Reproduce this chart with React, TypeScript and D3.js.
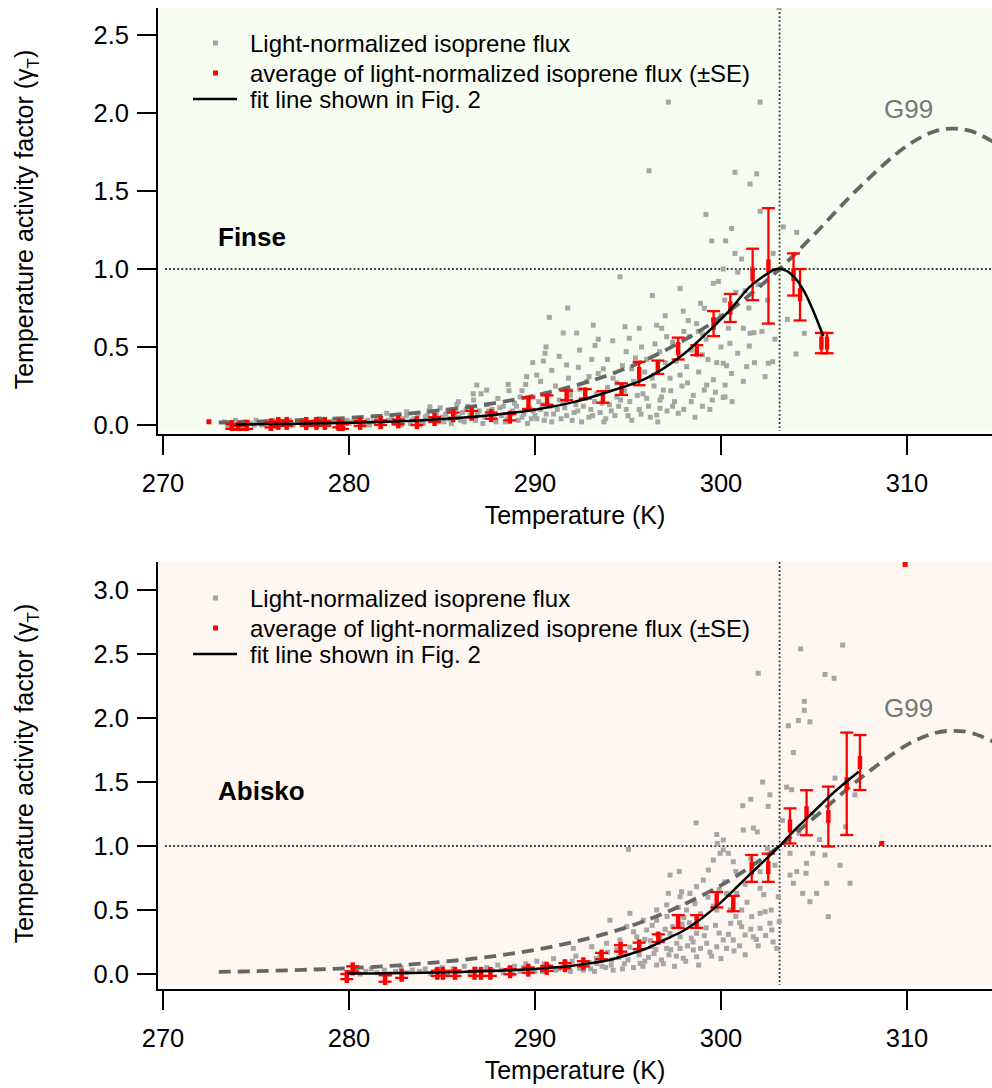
import React from "react";
import * as d3 from "d3";

// ---------- DATA ----------
const xTicks = [270, 280, 290, 300, 310];
const finseYTicks = [0.0, 0.5, 1.0, 1.5, 2.0, 2.5];
const abiskoYTicks = [0.0, 0.5, 1.0, 1.5, 2.0, 2.5, 3.0];
const refTemperature = 303.15;
const refGamma = 1.0;

// Light-normalized isoprene flux (scatter) [T (K), gamma]
const finseScatter: [number, number][] = [
  [273.3,0.02],[273.6,0.01],[273.9,0.03],[274.2,0.0],[274.4,0.02],[274.7,0.01],[275.0,0.03],[275.3,0.0],[275.6,0.02],[275.9,0.03],
  [276.1,0.01],[276.4,0.02],[276.8,0.03],[277.0,0.0],[277.3,0.02],[277.5,0.03],[277.9,0.01],[278.1,0.02],[278.4,0.04],[278.7,0.0],
  [279.0,0.02],[279.2,0.03],[279.6,0.01],[279.9,0.03],[280.2,0.02],[280.4,0.04],[280.8,0.0],[281.0,0.03],[281.3,0.02],[281.5,0.05],
  [281.8,0.01],[282.1,0.03],[282.3,0.05],[282.6,0.02],[282.9,0.04],[283.1,0.06],[283.3,0.01],
  [273.5,-0.01],[274.0,0.01],[274.9,0.0],[275.4,0.01],[276.6,0.0],[277.7,0.01],[278.9,0.01],[279.4,0.0],[280.0,0.01],[280.6,0.02],
  [281.1,0.0],[281.7,0.02],[282.4,0.01],[282.8,0.0],[283.4,0.03],[283.8,0.0],
  [283.5,0.04],[283.7,0.07],[283.9,0.02],[284.1,0.05],[284.3,0.09],[284.5,0.03],[284.7,0.06],[284.9,0.11],[285.1,0.02],[285.2,0.07],
  [285.4,0.04],[285.6,0.1],[285.8,0.13],[285.9,0.05],[286.1,0.08],[286.2,0.02],[286.4,0.12],[286.5,0.06],[286.7,0.16],[286.8,0.03],
  [287.0,0.09],[287.1,0.2],[287.3,0.05],[287.4,0.13],[287.6,0.07],[287.7,0.1],[287.9,0.02],[288.0,0.17],[288.2,0.06],[288.3,0.12],
  [288.5,0.04],[288.6,0.22],[288.8,0.09],[288.9,0.14],[289.1,0.03],[289.2,0.18],[289.4,0.07],[289.5,0.26],[289.7,0.11],[289.8,0.04],
  [284.0,0.01],[284.2,0.06],[284.6,0.08],[284.8,0.02],[285.0,0.05],[285.3,0.09],[285.5,0.01],[285.7,0.06],[286.0,0.03],[286.3,0.1],
  [286.6,0.04],[286.9,0.07],[287.2,0.01],[287.5,0.09],[287.8,0.05],[288.1,0.11],[288.4,0.02],[288.7,0.07],[289.0,0.12],[289.3,0.05],
  [289.6,0.01],[289.9,0.09],[290.1,0.04],[290.4,0.13],[290.6,0.07],[290.9,0.02],[291.2,0.1],[291.5,0.14],[291.7,0.06],[292.0,0.03],
  [292.3,0.09],[292.6,0.12],[292.9,0.05],[293.2,0.15],[293.5,0.08],[293.7,0.02],[294.0,0.13],[294.3,0.06],[294.6,0.16],[294.9,0.1],
  [295.2,0.03],[295.5,0.19],[295.7,0.07],[296.1,0.12],[296.4,0.25],[296.6,0.02],[296.8,0.18],[297.1,0.09],[297.3,0.22],[297.5,0.15],
  [297.8,0.32],[298.0,0.1],[298.2,0.27],[298.4,0.15],[298.8,0.34],[299.0,0.12],[299.3,0.42],[299.7,0.21],[300.0,0.5],[300.3,0.38],
  [300.6,0.15],[300.9,0.46],[301.2,0.28],[301.5,0.75],[301.8,0.4],[302.0,0.9],[302.2,0.6],[302.5,0.8],[302.8,1.1],[302.9,0.55],
  [289.3,0.22],[289.9,0.18],[290.3,0.28],[290.9,0.35],[291.3,0.44],[291.9,0.22],[292.4,0.48],[292.9,0.31],[293.4,0.55],[293.9,0.42],
  [294.4,0.27],[294.9,0.47],[295.2,0.36],[295.6,0.62],[296.0,0.42],[296.3,0.3],[296.7,0.47],[297.0,0.7],[297.4,0.53],[297.6,0.41],
  [298.0,0.6],[298.4,0.48],[298.9,0.78],[299.2,0.55],[299.6,0.67],[300.2,0.8],[300.4,0.62],[300.9,0.98],[301.3,0.86],[301.7,1.0],
  [282.03,0.075],[283.1,0.085],[284.35,0.117],[285.88,0.15],[286.68,0.2],[286.87,0.256],[287.4,0.224],[288.56,0.26],[289.55,0.31],
  [289.88,0.40],[290.09,0.32],[290.45,0.41],[290.54,0.46],[290.59,0.50],[290.77,0.69],[291.52,0.59],[291.7,0.385],[291.76,0.75],
  [292.24,0.59],[292.33,0.37],[293.05,0.42],[293.13,0.64],[293.23,0.51],[293.67,0.36],[294.18,0.54],[294.57,0.95],[294.84,0.63],
  [295.07,0.556],[295.73,0.50],[296.13,1.63],[296.31,0.83],[296.45,0.52],[296.54,0.64],[296.81,0.62],[297.08,0.566],[297.17,2.07],
  [297.8,0.876],[297.97,0.73],[298.24,0.67],[298.69,0.65],[298.78,0.60],[299.19,1.35],[299.5,1.18],[300.25,1.18],[300.57,1.26],
  [300.75,1.62],[300.75,1.10],
  [290.0,0.06],[290.2,0.15],[290.3,0.1],[290.5,0.03],[290.7,0.2],[290.8,0.12],[291.0,0.07],[291.1,0.25],[291.3,0.16],[291.4,0.04],
  [291.6,0.11],[291.8,0.3],[291.9,0.19],[292.1,0.08],[292.2,0.13],[292.4,0.23],[292.5,0.02],[292.7,0.17],[292.8,0.28],[293.0,0.1],
  [293.1,0.06],[293.3,0.2],[293.4,0.33],[293.6,0.14],[293.8,0.04],[293.9,0.24],[294.1,0.09],[294.2,0.3],[294.4,0.18],[294.5,0.12],
  [294.7,0.38],[294.8,0.22],[295.0,0.06],[295.1,0.15],[295.3,0.28],[295.4,0.43],[295.6,0.1],[295.8,0.2],[295.9,0.34],
  [296.0,0.171],[296.2,0.05],[296.54,0.064],[296.72,0.16],[296.72,0.107],[296.9,0.224],[297.0,0.4],[297.26,0.30],[297.4,0.12],
  [297.7,0.075],[297.9,0.25],[298.15,0.374],[298.3,0.566],[298.51,0.19],[298.6,0.05],[299.0,0.45],[299.01,0.583],[299.1,0.224],
  [299.1,0.748],[299.23,0.256],[299.4,0.1],[299.53,0.16],[299.59,0.29],[299.59,0.908],[299.77,0.40],[299.86,0.92],[300.0,0.7],
  [300.12,1.0],[300.12,0.396],[300.12,0.177],[300.22,0.256],[300.22,0.18],[300.48,0.524],[300.57,0.33],[300.8,0.85],[301.11,1.064],
  [301.2,0.62],[301.38,0.374],[301.52,0.506],[301.56,1.545],[301.56,0.588],[301.77,0.592],[301.92,1.61],[302.1,1.37],[302.1,2.07],
  [302.37,0.31],[302.54,0.396],[302.78,0.406],[303.12,2.675],[303.35,1.27],[303.57,0.677],[304.03,0.455],[304.07,1.235],[304.48,0.588],
];

const abiskoScatter: [number, number][] = [
  [280.3,0.03],[280.6,0.0],[280.9,0.02],[281.2,0.04],[281.5,0.01],[281.9,0.03],[282.2,0.0],[282.5,0.02],[282.8,0.05],[283.1,0.01],
  [283.4,0.03],[283.8,0.02],[284.1,0.04],[284.4,0.0],[284.7,0.03],[285.0,0.05],[285.3,0.01],[285.6,0.04],[285.9,0.02],[286.2,0.06],
  [286.5,0.01],[286.8,0.04],[287.1,0.02],[287.4,0.05],[287.7,0.03],[288.0,0.07],[288.3,0.01],[288.6,0.04],[288.9,0.06],[289.2,0.02],
  [289.5,0.08],[289.8,0.04],[290.1,0.1],[290.4,0.02],[290.7,0.06],[291.0,0.12],[291.3,0.04],[291.6,0.09],[291.9,0.02],[292.2,0.14],
  [292.4,0.05],
  [288.2,0.03],[288.8,0.0],[289.4,0.05],[290.0,0.02],[290.5,0.08],[291.1,0.03],[291.7,0.05],[292.0,0.1],[292.6,0.03],[292.9,0.09],
  [293.2,0.02],[293.5,0.15],[293.8,0.05],[294.1,0.07],[294.4,0.19],[294.7,0.04],[295.0,0.11],[295.4,0.18],[295.8,0.06],[296.1,0.13],
  [296.5,0.19],[296.9,0.08],[297.2,0.15],[297.5,0.06],[297.8,0.2],[298.1,0.1],[298.5,0.25],[298.8,0.07],[299.1,0.3],[299.4,0.17],
  [299.7,0.38],[300.0,0.12],[300.4,0.31],[300.7,0.18],[301.0,0.4],[301.3,0.15],[301.6,0.35],[302.0,0.22],[302.4,0.3],[302.7,0.5],
  [303.0,0.2],
  [295.3,0.33],[295.9,0.27],[296.3,0.38],[296.6,0.31],[297.1,0.45],[297.4,0.37],[297.7,0.52],[298.0,0.44],[298.3,0.4],[298.6,0.55],
  [298.9,0.47],[299.3,0.6],[299.6,0.53],[299.9,0.66],[300.2,0.72],[300.5,0.5],[300.8,0.8],[301.3,0.7],[301.6,0.9],[302.1,0.8],
  [302.5,0.98],[302.9,0.85],[303.3,1.2],[303.6,1.05],[304.2,1.1],[304.9,1.25],[305.3,1.05],[306.4,0.85],[307.2,1.4],[306.7,1.15],
  [293.0,0.04],[293.3,0.12],[293.6,0.06],[293.9,0.17],[294.2,0.03],[294.5,0.13],[294.8,0.08],[295.1,0.21],[295.3,0.05],[295.6,0.15],
  [295.9,0.1],[296.2,0.26],[296.4,0.16],[296.8,0.11],[297.0,0.35],[297.3,0.19],[297.6,0.14],[297.9,0.39],[298.2,0.22],[298.4,0.28],
  [298.9,0.2],[299.2,0.36],[299.5,0.14],[299.9,0.32],[300.3,0.2],[300.8,0.45],[301.0,0.22],[301.4,0.56],[301.9,0.27],[302.3,0.62],
  [302.8,0.25],
  [306.54,2.57],[304.28,2.54],[305.59,2.34],[306.08,2.31],[302.0,2.35],[304.48,2.13],[304.48,2.06],[304.16,1.98],[304.78,1.97],
  [303.62,1.94],[303.89,1.73],[302.24,1.50],[301.6,1.365],[301.17,1.315],[302.63,1.40],[302.54,1.31],[303.53,1.46],[303.8,1.44],
  [306.13,1.53],[298.66,1.18],[299.77,1.09],[301.2,1.125],[301.74,1.14],[301.95,1.11],[299.8,1.02],[300.12,0.97],[295.02,0.974],
  [300.66,0.877],[297.76,0.80],[297.26,0.773],[297.88,0.643],[297.17,0.63],[303.71,0.943],[304.07,0.80],[304.6,0.865],[304.93,0.943],
  [304.57,0.787],[303.89,0.709],[303.71,0.773],[305.59,0.93],[305.68,0.709],[306.94,0.709],[304.39,0.63],[305.14,0.63],[304.78,0.565],
  [305.77,0.448],[303.08,0.604],[303.13,0.41],[302.1,0.67],[302.37,0.487],[301.65,0.448],[301.11,0.37],[302.1,0.357],[302.73,0.344],
  [300.52,0.396],[300.12,0.266],[299.77,0.213],[301.29,0.305],[301.74,0.29],[300.66,0.266],[298.69,0.318],[299.23,0.24],[298.51,0.1875],
  [297.97,0.123],[298.69,0.135],[296.54,0.07],[295.65,0.083],[296.72,0.279],[297.26,0.318],[297.8,0.29],[296.0,0.344],[295.47,0.29],
  [296.27,0.213],[297.08,0.2],[297.62,0.24],[294.84,0.16],[294.12,0.11],[293.32,0.083],[292.42,0.044],[292.06,0.2],[293.05,0.213],
  [293.85,0.24],[294.57,0.266],[294.93,0.37],[295.82,0.42],[296.54,0.5],[297.08,0.54],[297.8,0.604],[298.33,0.63],[298.69,0.682],
  [299.05,0.734],[299.32,0.8125],[299.59,0.89],[299.95,0.943],[300.12,1.047],[300.39,0.943],[300.84,0.63],[301.11,0.5],[302.1,0.474],
  [302.63,0.396],[298.15,0.5],[299.77,0.5],[300.3,0.63],[295.1,0.474],[294.03,0.42],[296.54,0.42],
];

// Averages of light-normalized isoprene flux (±SE)
const finseAvgT = [273.7,274.05,274.5,275.8,276.2,276.65,277.7,278.25,278.7,279.45,279.65,280.6,281.7,282.65,283.65,284.6,285.6,286.6,287.65,288.65,289.65,290.65,291.7,292.7,293.65,294.65,295.6,296.6,297.7,298.7,299.6,300.5,301.7,302.55,303.9,304.25,305.4,305.7];
const finseAvgMean = [-0.01,-0.02,-0.01,0.0,0.01,0.01,0.01,0.01,0.01,0.0,-0.01,0.01,0.015,0.02,0.015,0.035,0.06,0.07,0.06,0.05,0.14,0.16,0.19,0.2,0.18,0.23,0.33,0.37,0.49,0.48,0.65,0.75,0.965,1.02,0.965,0.835,0.525,0.525];
const finseAvgSE = [0.015,0.015,0.015,0.015,0.015,0.015,0.015,0.015,0.015,0.015,0.015,0.015,0.015,0.015,0.015,0.015,0.02,0.02,0.02,0.02,0.037,0.03,0.03,0.03,0.037,0.037,0.075,0.043,0.07,0.032,0.08,0.09,0.165,0.37,0.135,0.165,0.065,0.065];
const finseSingle: [number, number][] = [[272.47, 0.021]];

const abiskoAvgT = [279.88,280.2,281.94,282.83,284.75,285.05,285.7,286.75,287.1,287.6,288.66,289.64,290.63,291.61,292.6,293.58,294.6,295.6,296.63,297.7,298.69,299.77,300.66,301.65,302.54,303.71,304.6,305.77,306.76,307.47];
const abiskoAvgMean = [-0.02,0.04,-0.035,-0.01,0.005,0.005,0.005,0.005,0.005,0.005,0.018,0.03,0.044,0.065,0.08,0.14,0.2,0.22,0.28,0.41,0.41,0.58,0.55,0.825,0.83,1.157,1.26,1.23,1.486,1.652];
const abiskoAvgSE = [0.02,0.02,0.025,0.02,0.02,0.02,0.02,0.02,0.02,0.02,0.02,0.02,0.02,0.02,0.02,0.025,0.025,0.025,0.03,0.05,0.05,0.06,0.06,0.105,0.11,0.137,0.176,0.234,0.4,0.215];
const abiskoSingle: [number, number][] = [[308.64, 1.02], [309.9, 3.2]];

// Fit lines shown in Fig. 2
const finseFitT = [273.9,276,278,280,282,284,286,288,290,292,294,296,298,299.5,300.5,301.5,302.3,303.0,303.5,304.0,304.5,305.0,305.5];
const finseFitV = [0.004,0.006,0.009,0.014,0.021,0.031,0.046,0.068,0.098,0.145,0.215,0.30,0.455,0.62,0.74,0.88,0.955,1.0,0.99,0.94,0.85,0.72,0.57];
const abiskoFitT = [279.9,282,284,286,288,290,291,292,293,294,295,296,297,298,299,300,301,302,303.15,304,305,306,307.4];
const abiskoFitV = [0.003,0.006,0.01,0.016,0.025,0.04,0.05,0.065,0.085,0.11,0.15,0.2,0.27,0.34,0.44,0.56,0.70,0.84,1.0,1.13,1.27,1.41,1.58];

// G99 curve
const g99T = [273,275,277.5,280,282.5,285,287.5,290,292.5,295,297.5,300,301.5,303.15,305,307.5,310,311.5,312.5,313.5,315];
const g99V = [0.016,0.022,0.032,0.046,0.066,0.095,0.134,0.189,0.265,0.368,0.51,0.693,0.83,1.0,1.22,1.53,1.79,1.883,1.9,1.882,1.79];

// ---------- LAYOUT ----------
const W = 992;
const H = 1088;
const FONT = "'Liberation Sans', Arial, Helvetica, sans-serif";
const AXIS_X = 157;
const PLOT_LEFT = 159;
const PLOT_RIGHT = 992;

const xScale = d3.scaleLinear().domain([270, 310]).range([163, 907]);

type PanelProps = {
  id: string;
  name: string;
  bg: string;
  plotTop: number;
  plotBottom: number;
  axisY: number;
  yDomain: [number, number];
  yRange: [number, number];
  yTicks: number[];
  scatter: [number, number][];
  avgT: number[];
  avgMean: number[];
  avgSE: number[];
  single: [number, number][];
  fitT: number[];
  fitV: number[];
  legendY: number;
  nameY: number;
  g99Y: number;
};

const Panel = (p: PanelProps) => {
  const y = d3.scaleLinear().domain(p.yDomain).range(p.yRange);
  const line = d3
    .line<[number, number]>()
    .x((d) => xScale(d[0]))
    .y((d) => y(d[1]))
    .curve(d3.curveCatmullRom.alpha(0.5));
  const fitPath = line(p.fitT.map((t, i) => [t, p.fitV[i]] as [number, number])) || "";
  const g99Path = line(g99T.map((t, i) => [t, g99V[i]] as [number, number])) || "";
  const clipId = `clip-${p.id}`;
  const yLabelCenter = (p.plotTop + p.plotBottom) / 2;
  const tickFs = 25.5;
  const labFs = 25;
  const legFs = 24;
  return (
    <g>
      <defs>
        <clipPath id={clipId}>
          <rect x={PLOT_LEFT} y={p.plotTop} width={PLOT_RIGHT - PLOT_LEFT} height={p.plotBottom - p.plotTop} />
        </clipPath>
      </defs>
      <rect x={PLOT_LEFT} y={p.plotTop} width={PLOT_RIGHT - PLOT_LEFT} height={p.plotBottom - p.plotTop} fill={p.bg} />
      <g clipPath={`url(#${clipId})`}>
        <line x1={xScale(270) + 2} x2={PLOT_RIGHT} y1={y(refGamma)} y2={y(refGamma)} stroke="#333" strokeWidth={1.8} strokeDasharray="1.8 2.3" />
        <line x1={xScale(refTemperature)} x2={xScale(refTemperature)} y1={p.plotTop} y2={p.plotBottom} stroke="#333" strokeWidth={1.8} strokeDasharray="1.8 2.3" />
        {p.scatter.map((d, i) => (
          <rect key={i} x={xScale(d[0]) - 2.5} y={y(d[1]) - 2.5} width={5} height={5} fill="#a6a6a6" />
        ))}
        <path d={g99Path} fill="none" stroke="#666" strokeWidth={3.8} strokeDasharray="12 7" />
        {p.avgT.map((t, i) => {
          const cx = xScale(t);
          const lo = y(p.avgMean[i] - p.avgSE[i]);
          const hi = y(p.avgMean[i] + p.avgSE[i]);
          const cy = y(p.avgMean[i]);
          return (
            <g key={i} stroke="#ff0000" strokeWidth={2.3}>
              <line x1={cx} x2={cx} y1={lo} y2={hi} />
              <line x1={cx - 6.5} x2={cx + 6.5} y1={lo} y2={lo} />
              <line x1={cx - 6.5} x2={cx + 6.5} y1={hi} y2={hi} />
              <rect x={cx - 2.2} y={cy - 6.5} width={4.4} height={13} fill="#ff0000" stroke="none" />
            </g>
          );
        })}
        {p.single.map((d, i) => (
          <rect key={i} x={xScale(d[0]) - 2.5} y={y(d[1]) - 2.5} width={5} height={5} fill="#ff0000" />
        ))}
        <path d={fitPath} fill="none" stroke="#000" strokeWidth={2.5} />
      </g>

      <line x1={AXIS_X} x2={AXIS_X} y1={p.plotTop} y2={p.axisY + 1} stroke="#000" strokeWidth={2} />
      <line x1={AXIS_X - 1} x2={PLOT_RIGHT} y1={p.axisY} y2={p.axisY} stroke="#000" strokeWidth={2} />
      {p.yTicks.map((t) => (
        <g key={t}>
          <line x1={AXIS_X - 20} x2={AXIS_X} y1={y(t)} y2={y(t)} stroke="#000" strokeWidth={2} />
          <text x={129} y={y(t)} dy="0.36em" textAnchor="end" fontSize={tickFs} fontFamily={FONT} fill="#000">
            {t.toFixed(1)}
          </text>
        </g>
      ))}
      {xTicks.map((t) => (
        <g key={t}>
          <line x1={xScale(t)} x2={xScale(t)} y1={p.axisY} y2={p.axisY + 20} stroke="#000" strokeWidth={2} />
          <text x={xScale(t)} y={p.axisY + 57} textAnchor="middle" fontSize={tickFs} fontFamily={FONT} fill="#000">
            {t}
          </text>
        </g>
      ))}
      <text x={575} y={p.axisY + 89} textAnchor="middle" fontSize={labFs} fontFamily={FONT} fill="#000">
        Temperature (K)
      </text>
      <text
        transform={`translate(33, ${yLabelCenter}) rotate(-90)`}
        textAnchor="middle"
        fontSize={labFs}
        fontFamily={FONT}
        fill="#000"
      >
        Temperature activity factor (γ
        <tspan fontSize={17} dy={6}>T</tspan>
        <tspan dy={-6}>)</tspan>
      </text>

      <text x={218} y={p.nameY} fontSize={26} fontWeight="bold" fontFamily={FONT} fill="#000">
        {p.name}
      </text>
      <text x={884} y={p.g99Y} fontSize={26} fontFamily={FONT} fill="#777">
        G99
      </text>

      <g fontFamily={FONT} fontSize={legFs} fill="#000">
        <rect x={213} y={p.legendY - 2.5} width={5} height={5} fill="#a6a6a6" />
        <text x={250} y={p.legendY} dy="0.36em">Light-normalized isoprene flux</text>
        <rect x={213} y={p.legendY + 27.5} width={5} height={5} fill="#ff0000" />
        <text x={250} y={p.legendY + 30} dy="0.36em">average of light-normalized isoprene flux (±SE)</text>
        <line x1={193} x2={237} y1={p.legendY + 56} y2={p.legendY + 56} stroke="#000" strokeWidth={2.5} />
        <text x={250} y={p.legendY + 56} dy="0.36em">fit line shown in Fig. 2</text>
      </g>
    </g>
  );
};

export default function App() {
  return (
    <svg
      width={W}
      height={H}
      viewBox={`0 0 ${W} ${H}`}
      style={{ position: "absolute", left: 0, top: 0, background: "#fff" }}
    >
      <rect x={0} y={0} width={W} height={H} fill="#fff" />
      <Panel
        id="finse"
        name="Finse"
        bg="#f7fdf0"
        plotTop={8}
        plotBottom={431}
        axisY={435}
        yDomain={[0, 2.5]}
        yRange={[425, 35]}
        yTicks={finseYTicks}
        scatter={finseScatter}
        avgT={finseAvgT}
        avgMean={finseAvgMean}
        avgSE={finseAvgSE}
        single={finseSingle}
        fitT={finseFitT}
        fitV={finseFitV}
        legendY={43}
        nameY={246}
        g99Y={118}
      />
      <Panel
        id="abisko"
        name="Abisko"
        bg="#fdf6f1"
        plotTop={562}
        plotBottom={985}
        axisY={990}
        yDomain={[0, 3]}
        yRange={[974, 590]}
        yTicks={abiskoYTicks}
        scatter={abiskoScatter}
        avgT={abiskoAvgT}
        avgMean={abiskoAvgMean}
        avgSE={abiskoAvgSE}
        single={abiskoSingle}
        fitT={abiskoFitT}
        fitV={abiskoFitV}
        legendY={598}
        nameY={800}
        g99Y={717}
      />
    </svg>
  );
}
